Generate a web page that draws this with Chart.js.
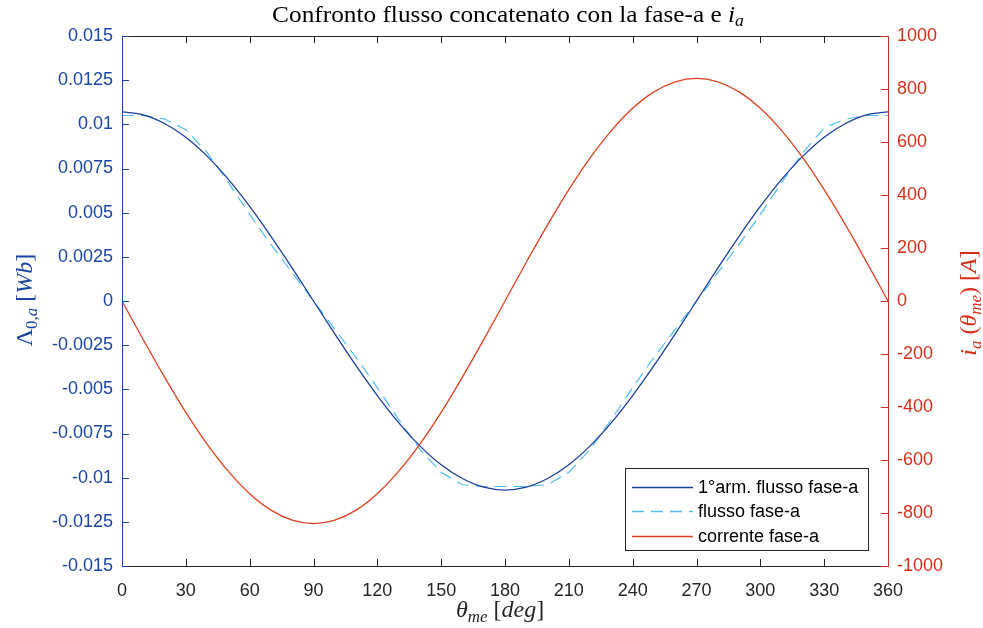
<!DOCTYPE html>
<html>
<head>
<meta charset="utf-8">
<script src="https://cdn.jsdelivr.net/npm/chart.js@4/dist/chart.umd.min.js"></script>
<style>
  html, body { margin: 0; padding: 0; background: #fff; }
  #wrap { width: 983px; height: 628px; }
</style>
</head>
<body>
<div id="wrap"><canvas id="fluxChart" width="983" height="628"></canvas></div>
<script>
const ctx = document.getElementById("fluxChart").getContext("2d");

// electrical angle (deg)
const thetaDeg = [0, 10, 20, 30, 40, 50, 60, 70, 80, 90, 100, 110, 120, 130, 140, 150, 160, 170, 180,
  190, 200, 210, 220, 230, 240, 250, 260, 270, 280, 290, 300, 310, 320, 330, 340, 350, 360];

// 1st harmonic of the flux linkage (Wb)
const fluxFirstHarm = [0.0107, 0.01054, 0.01005, 0.00927, 0.0082, 0.00688, 0.00535, 0.00366, 0.00186, 0,
  -0.00186, -0.00366, -0.00535, -0.00688, -0.0082, -0.00927, -0.01005, -0.01054, -0.0107,
  -0.01054, -0.01005, -0.00927, -0.0082, -0.00688, -0.00535, -0.00366, -0.00186, 0,
  0.00186, 0.00366, 0.00535, 0.00688, 0.0082, 0.00927, 0.01005, 0.01054, 0.0107];

// flux linkage phase a (Wb)
const fluxPhaseA = [0.0105, 0.0105, 0.0103, 0.0097, 0.0084, 0.0067, 0.0049, 0.0032, 0.0016, 0,
  -0.0016, -0.0032, -0.0049, -0.0067, -0.0084, -0.0097, -0.0104, -0.0105, -0.0105,
  -0.0105, -0.0104, -0.0097, -0.0084, -0.0067, -0.0049, -0.0032, -0.0016, 0,
  0.0016, 0.0032, 0.0049, 0.0067, 0.0084, 0.0098, 0.0103, 0.0105, 0.0105];

// phase a current (A)
const currentPhaseA = [0, -146, -287, -420, -540, -643, -727, -789, -827, -840,
  -827, -789, -727, -643, -540, -420, -287, -146, 0,
  146, 287, 420, 540, 643, 727, 789, 827, 840,
  827, 789, 727, 643, 540, 420, 287, 146, 0];

const seriesNames = ["1°arm. flusso fase-a", "flusso fase-a", "corrente fase-a"];

const BLUE_LINE = "#1B3F9E";
const BLUE_TEXT = "#1A47A3";
const CYAN = "#4DBEEE";
const RED_LINE = "#E0401F";
const RED_TEXT = "#D7301A";
const DARK = "#262626";
const SANS = "'Liberation Sans', Arial, sans-serif";
const SERIF = "'Liberation Serif', 'Times New Roman', serif";

const pts = (ys) => thetaDeg.map((t, i) => ({ x: t, y: ys[i] }));

// draws a run of text pieces: [text, italic, size, dy], centred on x
function drawRich(c, pieces, x, y, color, stretch = 1) {
  let total = 0;
  const measured = pieces.map(([t, it, sz, dy]) => {
    c.font = (it ? "italic " : "") + sz + "px " + SERIF;
    const w = c.measureText(t).width;
    total += w;
    return { t, font: c.font, w, dy };
  });
  c.save();
  c.translate(x, y);
  c.scale(stretch, 1);
  let cx = -total / 2;
  c.fillStyle = color;
  c.textAlign = "left";
  c.textBaseline = "alphabetic";
  measured.forEach(m => {
    c.font = m.font;
    c.fillText(m.t, cx, m.dy);
    cx += m.w;
  });
  c.restore();
}

const matlabDecor = {
  id: "matlabDecor",
  afterDatasetsDraw(chart) {
    const c = chart.ctx;
    const a = chart.chartArea;
    const sx = chart.scales.x, sy = chart.scales.y, sy1 = chart.scales.y1;
    const tl = 7;
    c.save();
    c.lineWidth = 1;

    // x ticks, bottom and top
    c.strokeStyle = DARK;
    c.beginPath();
    sx.ticks.forEach(t => {
      const px = Math.round(sx.getPixelForValue(t.value)) + 0.5;
      c.moveTo(px, a.bottom); c.lineTo(px, a.bottom - tl);
      c.moveTo(px, a.top); c.lineTo(px, a.top + tl);
    });
    c.moveTo(a.left, a.bottom + 0.5); c.lineTo(a.right, a.bottom + 0.5);
    c.moveTo(a.left, a.top + 0.5); c.lineTo(a.right, a.top + 0.5);
    c.stroke();

    // left axis
    c.strokeStyle = BLUE_TEXT;
    c.beginPath();
    c.moveTo(a.left + 0.5, a.top); c.lineTo(a.left + 0.5, a.bottom + 1);
    sy.ticks.forEach(t => {
      const py = Math.round(sy.getPixelForValue(t.value)) + 0.5;
      c.moveTo(a.left, py); c.lineTo(a.left + tl, py);
    });
    c.stroke();

    // right axis
    c.strokeStyle = RED_TEXT;
    c.beginPath();
    c.moveTo(a.right + 0.5, a.top); c.lineTo(a.right + 0.5, a.bottom + 1);
    sy1.ticks.forEach(t => {
      const py = Math.round(sy1.getPixelForValue(t.value)) + 0.5;
      c.moveTo(a.right, py); c.lineTo(a.right - tl, py);
    });
    c.stroke();

    // legend box, bottom right inside the axes
    const lx = 625.5, ly = 468.5, lw = 243, lh = 82;
    c.fillStyle = "#fff";
    c.fillRect(lx, ly, lw, lh);
    c.strokeStyle = DARK;
    c.strokeRect(lx, ly, lw, lh);
    const rows = [487, 511, 536];
    chart.data.datasets.forEach((ds, i) => {
      c.strokeStyle = ds.borderColor;
      c.lineWidth = 1.3;
      c.setLineDash(ds.borderDash || []);
      c.beginPath();
      c.moveTo(632, rows[i] + 0.5); c.lineTo(693, rows[i] + 0.5);
      c.stroke();
      c.setLineDash([]);
      c.fillStyle = "#000";
      c.font = "18px " + SANS;
      c.textAlign = "left";
      c.textBaseline = "middle";
      c.fillText(ds.label, 698, rows[i] + 1);
    });

    // title
    drawRich(c, [
      ["Confronto flusso concatenato con la fase-a e ", false, 23, 0],
      ["i", true, 23, 0],
      ["a", true, 16, 4]
    ], (a.left + a.right) / 2 + 3, 22, "#000", 1.1);

    // x label
    drawRich(c, [
      ["θ", true, 24, 0],
      ["me", true, 17, 5],
      [" [", false, 24, 0],
      ["deg", true, 24, 0],
      ["]", false, 24, 0]
    ], (a.left + a.right) / 2 - 5, 617, DARK);

    // left y label
    c.save();
    c.translate(32, 300);
    c.rotate(-Math.PI / 2);
    drawRich(c, [
      ["Λ", false, 24, 0],
      ["0,", false, 17, 5],
      ["a", true, 17, 5],
      [" [", false, 24, 0],
      ["Wb", true, 24, 0],
      ["]", false, 24, 0]
    ], 0, 0, BLUE_TEXT);
    c.restore();

    // right y label
    c.save();
    c.translate(976, 303);
    c.rotate(-Math.PI / 2);
    drawRich(c, [
      ["i", true, 24, 0],
      ["a", true, 17, 5],
      [" (", false, 24, 0],
      ["θ", true, 24, 0],
      ["me", true, 17, 5],
      [") [", false, 24, 0],
      ["A", true, 24, 0],
      ["]", false, 24, 0]
    ], 0, 0, RED_TEXT);
    c.restore();

    c.restore();
  }
};

const fluxChart = new Chart(ctx, {
  type: "line",
  data: {
    datasets: [
      {
        label: seriesNames[0],
        data: pts(fluxFirstHarm),
        yAxisID: "y",
        borderColor: BLUE_LINE,
        borderWidth: 1.3,
        pointRadius: 0,
        cubicInterpolationMode: "monotone",
        order: 1,
      },
      {
        label: seriesNames[1],
        data: pts(fluxPhaseA),
        yAxisID: "y",
        borderColor: CYAN,
        borderWidth: 1.2,
        borderDash: [12, 7],
        pointRadius: 0,
        tension: 0,
        order: 2,
      },
      {
        label: seriesNames[2],
        data: pts(currentPhaseA),
        yAxisID: "y1",
        borderColor: RED_LINE,
        borderWidth: 1.3,
        pointRadius: 0,
        cubicInterpolationMode: "monotone",
        order: 0,
      },
    ],
  },
  options: {
    responsive: false,
    animation: false,
    devicePixelRatio: 1,
    layout: { padding: { top: 36, left: 0, right: 0, bottom: 0 } },
    plugins: {
      legend: { display: false },
      title: { display: false },
      tooltip: { enabled: false },
    },
    scales: {
      x: {
        type: "linear",
        min: 0,
        max: 360,
        grid: { display: false, drawTicks: false },
        border: { display: false },
        ticks: {
          stepSize: 30,
          padding: 14,
          color: DARK,
          font: { family: SANS, size: 18 },
          maxRotation: 0,
        },
        afterFit: (s) => { s.height = 62; },
      },
      y: {
        position: "left",
        min: -0.015,
        max: 0.015,
        grid: { display: false, drawTicks: false },
        border: { display: false },
        ticks: {
          stepSize: 0.0025,
          padding: 9,
          color: BLUE_TEXT,
          font: { family: SANS, size: 18 },
          callback: (v) => String(parseFloat(v.toFixed(4))),
        },
        afterFit: (s) => { s.width = 122; },
      },
      y1: {
        position: "right",
        min: -1000,
        max: 1000,
        grid: { display: false, drawTicks: false },
        border: { display: false },
        ticks: {
          stepSize: 200,
          padding: 9,
          color: RED_TEXT,
          font: { family: SANS, size: 18 },
          callback: (v) => String(v),
        },
        afterFit: (s) => { s.width = 95; },
      },
    },
  },
  plugins: [matlabDecor],
});
</script>
</body>
</html>
